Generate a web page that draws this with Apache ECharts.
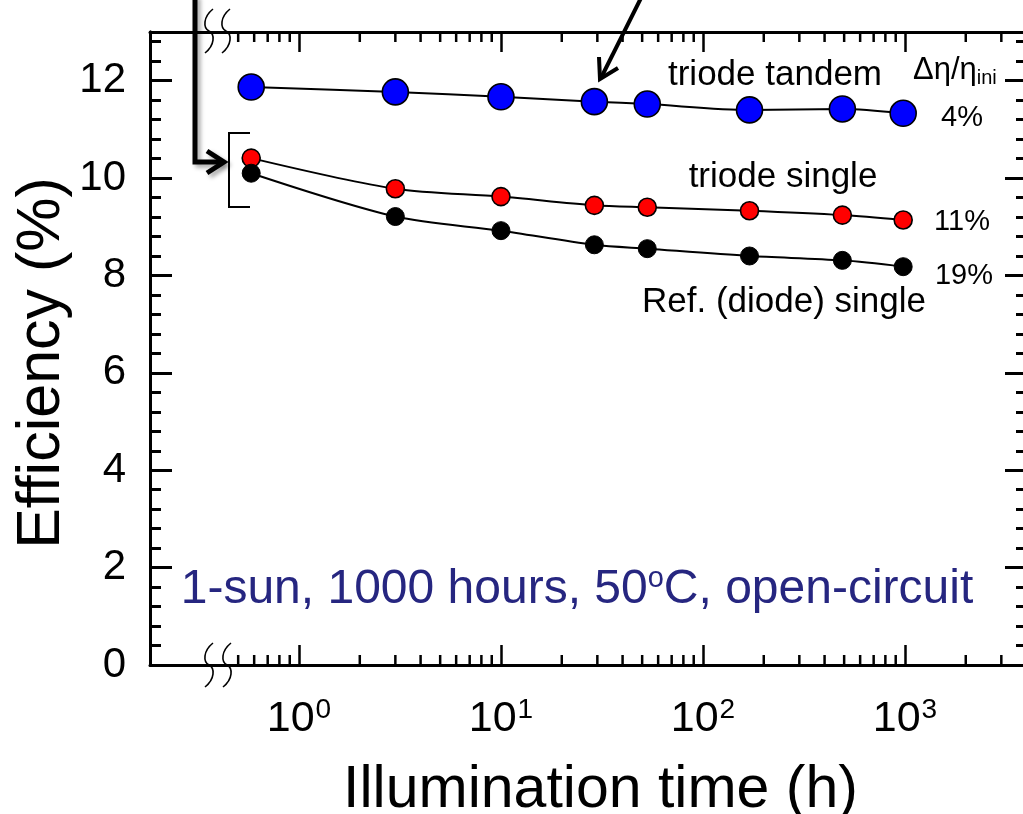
<!DOCTYPE html>
<html>
<head>
<meta charset="utf-8">
<script src="https://cdn.jsdelivr.net/npm/echarts@6/dist/echarts.min.js"></script>
<style>
  html, body { margin: 0; padding: 0; background: #fff; }
  #chart { width: 1023px; height: 814px; }
</style>
</head>
<body>
<div id="chart"></div>
<script>
// Illumination time (h) of each measurement
const hours = [0.58, 3, 10, 29, 53, 170, 490, 980];
// Efficiency (%) of each device type
const triodeTandem = [11.87, 11.77, 11.67, 11.57, 11.52, 11.40, 11.42, 11.33];
const triodeSingle = [10.41, 9.78, 9.62, 9.44, 9.40, 9.33, 9.24, 9.14];
const diodeSingle = [10.10, 9.21, 8.92, 8.63, 8.55, 8.40, 8.31, 8.18];
// Relative efficiency loss labels
const lossLabels = ['4%', '11%', '19%'];
// Axis titles
const xTitle = 'Illumination time (h)';
const yTitle = 'Efficiency (%)';
// Axis ranges
const xMin = 0.183, xMax = 4020;
const yMin = 0, yMax = 13, yMajor = 2, yMinor = 0.4;

const FONT = 'Liberation Sans, Arial, Helvetica, sans-serif';
const BLACK = '#000';

// minor log ticks (2..9 x 10^k) right of the axis break
const minorX = [];
for (let e = -1; e <= 3; e++) {
  for (let m = 2; m <= 9; m++) {
    const v = m * Math.pow(10, e);
    if (v >= 0.5 && v <= xMax) minorX.push([v, yMin]);
  }
}

const pairs = ys => hours.map((h, i) => [h, ys[i]]);

const chart = echarts.init(document.getElementById('chart'), null, { renderer: 'canvas' });

function yAxisDef(position, interval, len, withLabel) {
  return {
    type: 'value', min: yMin, max: yMax, interval: interval, position: position,
    axisLine: { show: true, onZero: false, lineStyle: { color: BLACK, width: 3 } },
    axisTick: { show: true, inside: true, length: len, lineStyle: { color: BLACK, width: 3 } },
    axisLabel: withLabel ? {
      show: true, margin: 24, color: BLACK, fontSize: 42, fontFamily: FONT,
      formatter: v => (Math.abs(v % 2) < 1e-9 ? String(v) : '')
    } : { show: false },
    splitLine: { show: false }
  };
}

function xAxisDef(position, withLabel) {
  return {
    type: 'log', logBase: 10, min: xMin, max: xMax, position: position,
    axisLine: { show: true, onZero: false, lineStyle: { color: BLACK, width: 3 } },
    axisTick: { show: true, inside: true, length: 20, lineStyle: { color: BLACK, width: 2.5 } },
    axisLabel: withLabel ? {
      show: true, margin: 31, showMinLabel: false, showMaxLabel: false,
      formatter: v => '{b|10}{e|' + Math.round(Math.log10(v)) + '}',
      rich: {
        b: { fontSize: 43, fontFamily: FONT, color: BLACK, lineHeight: 46 },
        e: { fontSize: 28, fontFamily: FONT, color: BLACK, verticalAlign: 'top', lineHeight: 46, padding: [0, 0, 16, 1] }
      }
    } : { show: false },
    splitLine: { show: false },
    minorTick: { show: false }
  };
}

const xBottom = xAxisDef('bottom', true);
xBottom.name = xTitle;
xBottom.nameLocation = 'middle';
xBottom.nameGap = 96;
xBottom.nameTextStyle = { fontSize: 59, fontFamily: FONT, color: BLACK, padding: [0, 0, 0, 24] };

// axis break mark: two bezier halves forming a stretched "S"
function squiggle(cx, cy) {
  const st = { fill: null, stroke: BLACK, lineWidth: 1.6 };
  return [
    {
      type: 'bezierCurve', z: 100,
      shape: { x1: cx + 4, y1: cy - 22, cpx1: cx - 6, cpy1: cy - 14, cpx2: cx - 6, cpy2: cy - 3, x2: cx, y2: cy },
      style: st
    },
    {
      type: 'bezierCurve', z: 100,
      shape: { x1: cx, y1: cy, cpx1: cx + 6, cpy1: cy + 3, cpx2: cx + 6, cpy2: cy + 14, x2: cx - 4, y2: cy + 22 },
      style: st
    }
  ];
}

function text(str, x, y, size, align) {
  return {
    type: 'text', x: x, y: y, z: 100,
    style: { text: str, fontSize: size, fontFamily: FONT, fill: BLACK, align: align || 'center', verticalAlign: 'middle' }
  };
}

const arrowShadow = { shadowColor: 'rgba(0,0,0,0.35)', shadowBlur: 4, shadowOffsetX: 3, shadowOffsetY: 3 };

const option = {
  animation: false,
  backgroundColor: '#fff',
  grid: { left: 150, top: 32, width: 877, height: 633, containLabel: false, outerBoundsMode: 'none' },
  xAxis: [xBottom, xAxisDef('top', false)],
  yAxis: [
    yAxisDef('left', yMajor, 22, true),
    yAxisDef('left', yMinor, 11, false),
    yAxisDef('right', yMajor, 22, false),
    yAxisDef('right', yMinor, 11, false)
  ],
  series: [
    {
      name: 'triode tandem', type: 'line', data: pairs(triodeTandem), smooth: 0.3,
      symbol: 'circle', symbolSize: 26, z: 3,
      lineStyle: { color: BLACK, width: 2 },
      itemStyle: { color: '#0000ff', borderColor: BLACK, borderWidth: 1.6 }
    },
    {
      name: 'triode single', type: 'line', data: pairs(triodeSingle), smooth: 0.3,
      symbol: 'circle', symbolSize: 18, z: 4,
      lineStyle: { color: BLACK, width: 2 },
      itemStyle: { color: '#ff0000', borderColor: BLACK, borderWidth: 1.6 }
    },
    {
      name: 'Ref. (diode) single', type: 'line', data: pairs(diodeSingle), smooth: 0.3,
      symbol: 'circle', symbolSize: 18, z: 5,
      lineStyle: { color: BLACK, width: 2 },
      itemStyle: { color: BLACK, borderColor: BLACK, borderWidth: 1 }
    },
    {
      // minor ticks of the log axis, bottom and top
      type: 'custom', silent: true, z: 6, clip: false,
      data: minorX, encode: { x: 0, y: 1 },
      renderItem: (params, api) => {
        const v = api.value(0);
        const b = api.coord([v, yMin]);
        const t = api.coord([v, yMax]);
        const st = { stroke: BLACK, lineWidth: 2.5 };
        return {
          type: 'group', children: [
            { type: 'line', shape: { x1: b[0], y1: b[1], x2: b[0], y2: b[1] - 10 }, style: st },
            { type: 'line', shape: { x1: t[0], y1: t[1], x2: t[0], y2: t[1] + 10 }, style: st }
          ]
        };
      }
    }
  ],
  graphic: [].concat(
    squiggle(209, 31), squiggle(226, 31),
    squiggle(209, 665), squiggle(227, 665),
    [
      // vertical axis title
      {
        type: 'text', x: 42, y: 363, rotation: Math.PI / 2, z: 100,
        style: { text: yTitle, fontSize: 61, fontFamily: FONT, fill: BLACK, align: 'center', verticalAlign: 'middle' }
      },
      // bracket around the initial values
      {
        type: 'polyline', z: 100,
        shape: { points: [[250, 133], [229, 133], [229, 207], [250, 207]] },
        style: { fill: null, stroke: BLACK, lineWidth: 2 }
      },
      // thick pointer into the bracket
      {
        type: 'polyline', z: 100,
        shape: { points: [[195, -5], [195, 162], [222, 162]] },
        style: Object.assign({ fill: null, stroke: BLACK, lineWidth: 5, lineJoin: 'miter' }, arrowShadow)
      },
      {
        type: 'polyline', z: 100,
        shape: { points: [[207, 151], [224, 162], [207, 173]] },
        style: Object.assign({ fill: null, stroke: BLACK, lineWidth: 5, lineJoin: 'miter' }, arrowShadow)
      },
      // diagonal pointer towards the tandem curve
      {
        type: 'line', z: 100,
        shape: { x1: 641, y1: -2, x2: 601, y2: 78 },
        style: { stroke: BLACK, lineWidth: 4 }
      },
      {
        type: 'polyline', z: 100,
        shape: { points: [[599, 57], [600, 79], [618, 68]] },
        style: { fill: null, stroke: BLACK, lineWidth: 4, lineJoin: 'miter' }
      },
      // curve labels
      text('triode tandem', 775, 75, 35),
      text('triode single', 783, 177, 35),
      text('Ref. (diode) single', 784, 302, 35),
      // relative loss header and values
      {
        type: 'text', x: 913, y: 70, z: 100,
        style: {
          text: '{a|\u0394\u03b7/\u03b7}{s|ini}', align: 'left', verticalAlign: 'middle',
          rich: {
            a: { fontSize: 31, fontFamily: FONT, fill: BLACK, lineHeight: 36 },
            s: { fontSize: 20, fontFamily: FONT, fill: BLACK, verticalAlign: 'bottom', lineHeight: 36, padding: [12, 0, 0, 0] }
          }
        }
      },
      text(lossLabels[0], 962, 118, 29),
      text(lossLabels[1], 962, 222, 29),
      text(lossLabels[2], 964, 276, 29),
      // test conditions
      {
        type: 'text', x: 577, y: 590, z: 100,
        style: {
          text: '{a|1-sun, 1000 hours, 50}{s|o}{a|C, open-circuit}', align: 'center', verticalAlign: 'middle',
          rich: {
            a: { fontSize: 48, fontFamily: FONT, fill: '#262680', lineHeight: 52 },
            s: { fontSize: 29, fontFamily: FONT, fill: '#262680', verticalAlign: 'top', lineHeight: 52, padding: [0, 0, 17, 0] }
          }
        }
      }
    ]
  )
};

chart.setOption(option);
</script>
</body>
</html>
